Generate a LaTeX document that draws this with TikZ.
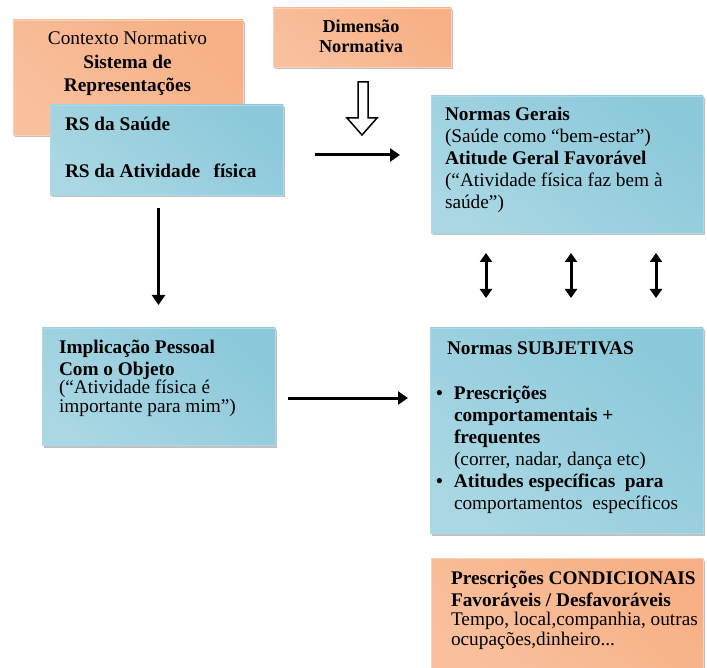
\documentclass[tikz,border=0pt]{standalone}
\usepackage{fontspec}
\setmainfont{Liberation Serif}
\usetikzlibrary{arrows.meta,shadows}
\definecolor{orD}{HTML}{F7B085}
\definecolor{orL}{HTML}{FDEDE1}
\definecolor{blD}{HTML}{8CC9DA}
\definecolor{blL}{HTML}{E0F0F5}
\newcommand\tstrut{\rule{0pt}{15pt}}
\newcommand\bw{\hspace*{18pt}}
\newcommand\bul{\makebox[18pt][l]{\textbf{•}}}
\tikzset{
  boxbase/.style={inner sep=0pt, outer sep=0pt, anchor=north west, line width=0.6pt,
    drop shadow={shadow xshift=2pt, shadow yshift=-2.5pt, fill=black!45, opacity=0.55}},
  obox/.style={boxbase, draw=orD!60, top color=orD, middle color=orL, bottom color=orD!80, shading angle=-40},
  bbox/.style={boxbase, draw=blD!70, top color=blD, middle color=blL, bottom color=blD!75, shading angle=-40},
  ttxt/.style={inner sep=0pt, outer sep=0pt, anchor=north west, align=left,
    font=\fontsize{19.3}{22}\selectfont},
  arr/.style={line width=3pt, -{Triangle[length=10pt,width=13pt]}},
  darr/.style={line width=3pt, {Triangle[length=9pt,width=12pt]}-{Triangle[length=9pt,width=12pt]}},
}
\begin{document}
\begin{tikzpicture}[x=1pt,y=-1pt]
\useasboundingbox (0,0) rectangle (707,668);
% boxes
\node[obox, minimum width=230pt, minimum height=115pt] (ctx) at (13,20) {};
\node[bbox, minimum width=233pt, minimum height=90pt] (rs) at (50,105) {};
\node[obox, minimum width=178pt, minimum height=59pt] (dim) at (273,8) {};
\node[bbox, minimum width=272pt, minimum height=137pt] (ng) at (431,96) {};
\node[bbox, minimum width=233pt, minimum height=117pt] (impl) at (42,328) {};
\node[bbox, minimum width=273pt, minimum height=205pt] (nsub) at (430,328) {};
\node[obox, minimum width=272pt, minimum height=118pt] (cond) at (431,558) {};
% texts
\node[ttxt, anchor=north, align=center, font=\fontsize{19.3}{23.5}\selectfont] (ctxt) at (127.5,30)
  {\tstrut Contexto Normativo\\\textbf{Sistema de}\\\textbf{Representações}};
\node[ttxt, font=\fontsize{19.3}{23.5}\selectfont] (rst) at (65,116)
  {\tstrut\textbf{RS da Saúde}\\[23.5pt]\textbf{RS da Atividade\hspace{0.7em}física}};
\node[ttxt, anchor=north, align=center, font=\fontsize{18.2}{20}\selectfont] (dimt) at (361,18)
  {\tstrut\textbf{Dimensão}\\\textbf{Normativa}};
\node[ttxt] (ngt) at (445,106)
  {\tstrut\textbf{Normas Gerais}\\(Saúde como “bem-estar”)\\\textbf{Atitude Geral Favorável}\\(“Atividade física faz bem à\\saúde”)};
\node[ttxt] (implt) at (59,338)
  {\tstrut\textbf{Implicação Pessoal}\\\textbf{Com o Objeto}\\[-4pt](“Atividade física é\\[-3pt]importante para mim”)};
\node[ttxt] (nsubt) at (436,339)
  {\tstrut\hspace*{11pt}\textbf{Normas SUBJETIVAS}\\[23pt]\bul\textbf{Prescrições}\\\bw\textbf{comportamentais +}\\\bw\textbf{frequentes}\\\bw(correr, nadar,\ dança etc)\\\bul\textbf{Atitudes específicas\ \ para}\\\bw comportamentos\ \ específicos};
\node[ttxt] (condt) at (451,569)
  {\tstrut\textbf{Prescrições CONDICIONAIS}\\\textbf{Favoráveis / Desfavoráveis}\\[-3pt]Tempo, local,companhia, outras\\[-2pt]ocupações,dinheiro...};
% hollow arrow from Dimensão
\draw[line width=1.5pt, fill=white, line join=miter]
  (358,82) -- (368,82) -- (368,118) -- (377,118) -- (362,135) -- (347,118) -- (358,118) -- cycle;
% connectors
\draw[arr, shorten <=32pt, shorten >=31pt] (rs.east |- 0,155) -- (ng.west |- 0,155);
\draw[arr, shorten <=13pt, shorten >=23pt] (rs.south -| impl.north) -- (impl.north);
\draw[arr, shorten <=13pt, shorten >=22pt] (impl.east |- 0,398) -- (nsub.west |- 0,398);
\draw[darr, shorten <=20pt, shorten >=30pt] (ng.south -| 486,0) -- (nsub.north -| 486,0);
\draw[darr, shorten <=20pt, shorten >=30pt] (ng.south -| 571,0) -- (nsub.north -| 571,0);
\draw[darr, shorten <=20pt, shorten >=30pt] (ng.south -| 656,0) -- (nsub.north -| 656,0);
\end{tikzpicture}
\end{document}
